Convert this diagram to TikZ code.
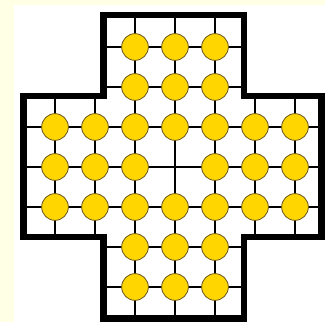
\documentclass[tikz,border=0pt]{standalone}
\definecolor{boardBackground}{RGB}{255,255,230}
\definecolor{boardPeg}{RGB}{255,214,0}
\definecolor{boardPegRim}{RGB}{110,90,30}

\begin{document}
\begin{tikzpicture}[x=1.2cm,y=1.2cm,
      grid/.style={draw=black, line width=1.1pt},
      rim/.style={draw=black, line width=5.7pt, line join=miter},
      peg/.style={fill=boardPeg, draw=boardPegRim, line width=.7pt}]
      \useasboundingbox (0,0) rectangle (8.125,8.05);

      % Page and board background.
      \fill[boardBackground] (0,0) rectangle (8.125,8.05);
      \fill[white] (.35,0) rectangle (8.125,7.925);

      % Lines through the holes.
      \foreach \x in {3.375,4.375,5.375}
        \draw[grid] (\x,.095) -- (\x,7.675);
      \foreach \x in {1.375,2.375,6.375,7.375}
        \draw[grid] (\x,2.125) -- (\x,5.65);
      \foreach \y in {2.875,3.875,4.875}
        \draw[grid] (.583,\y) -- (8.04,\y);
      \foreach \y in {.875,1.875,5.875,6.875}
        \draw[grid] (2.583,\y) -- (6.1,\y);

      % Cross-shaped rim.
      \draw[rim] (2.583,7.675) -- (6.1,7.675) -- (6.1,5.65) --
        (8.04,5.65) -- (8.04,2.125) -- (6.1,2.125) -- (6.1,.095) --
        (2.583,.095) -- (2.583,2.125) -- (.583,2.125) -- (.583,5.65) --
        (2.583,5.65) -- cycle;

      % Pegs, the centre hole left empty.
      \foreach \k in {0,1,5,6}{
        \foreach \i in {2,3,4}{
          \draw[peg] ({1.375+\i},{.875+\k}) circle (.4cm);}}
      \foreach \k in {2,4}{
        \foreach \i in {0,...,6}{
          \draw[peg] ({1.375+\i},{.875+\k}) circle (.4cm);}}
      \foreach \i in {0,1,2,4,5,6}
        \draw[peg] ({1.375+\i},3.875) circle (.4cm);
    \end{tikzpicture}
\end{document}
